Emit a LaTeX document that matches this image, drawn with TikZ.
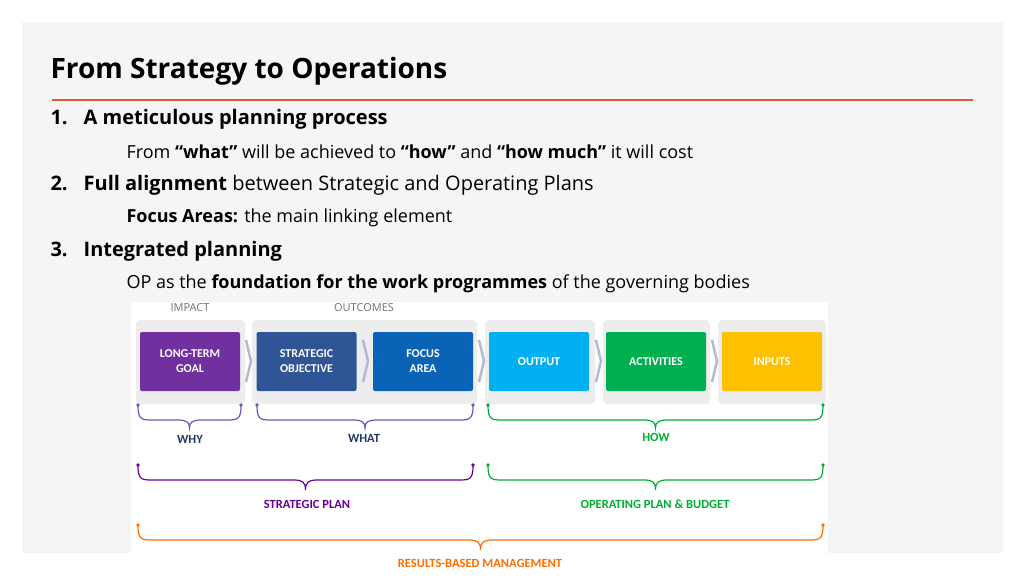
\documentclass[tikz,border=0pt]{standalone}
\usepackage{fontspec}
\setmainfont{Open Sans}
\newfontfamily\cond{Carlito}
\begin{document}
\begin{tikzpicture}[x=1pt,y=-1pt,
 box/.style={draw=none,minimum width=100pt,minimum height=59pt,rounded corners=2pt,text=white,font=\cond\bfseries\fontsize{12}{15}\selectfont,align=center},
 back/.style={fill=black!7,rounded corners=4pt},
 chev/.style={draw=blue!25!gray!45,line width=2.5pt},
 lbl/.style={font=\cond\bfseries\fontsize{12.5}{14}\selectfont},
 hdr/.style={anchor=west,font=\fontsize{20}{24}\selectfont},
 sub/.style={anchor=west,font=\fontsize{18}{22}\selectfont}]
\useasboundingbox (0,0) rectangle (1024,576);
\fill[white] (0,0) rectangle (1024,576);
\fill[black!4] (22,22) rectangle (1003,553);
\node[anchor=west,font=\bfseries\fontsize{28}{32}\selectfont] (title) at (47,71) {From Strategy to Operations};
\draw[line width=2pt,color={rgb,255:red,224;green,90;blue,58}] (52,100) -- (973,100);
\node[hdr,font=\bfseries\fontsize{20}{24}\selectfont] (n1) at (47,119) {1.\hspace{16pt}A meticulous planning process};
\node[sub] (s1) at (123,152) {From \textbf{“what”} will be achieved to \textbf{“how”} and \textbf{“how much”} it will cost};
\node[hdr] (n2) at (47,185) {\textbf{2.\hspace{16pt}Full alignment} between Strategic and Operating Plans};
\node[sub] (s2) at (123,218) {\textbf{Focus Areas:} the main linking element};
\node[hdr,font=\bfseries\fontsize{20}{24}\selectfont] (n3) at (47,251) {3.\hspace{16pt}Integrated planning};
\node[sub] (s3) at (123,284) {OP as the \textbf{foundation for the work programmes} of the governing bodies};
\fill[white] (131,302) rectangle (828,576);
\node[font=\fontsize{11}{13}\selectfont,text=black!55] (imp) at (190,308) {IMPACT};
\node[font=\fontsize{11}{13}\selectfont,text=black!55] (out) at (364,308) {OUTCOMES};
\foreach \a/\b in {136/245,252/477,485/595,603/710,718/826} \fill[back] (\a,320) rectangle (\b,404);
\node[box,fill={rgb,255:red,112;green,48;blue,160}] (g) at (190,361.5) {LONG-TERM\\GOAL};
\node[box,fill={rgb,255:red,47;green,85;blue,151}] (so) at (306.5,361.5) {STRATEGIC\\OBJECTIVE};
\node[box,fill={rgb,255:red,11;green,99;blue,184}] (fa) at (423,361.5) {FOCUS\\AREA};
\node[box,fill={rgb,255:red,0;green,176;blue,240}] (op) at (539,361.5) {OUTPUT};
\node[box,fill={rgb,255:red,0;green,176;blue,80}] (ac) at (656,361.5) {ACTIVITIES};
\node[box,fill={rgb,255:red,255;green,192;blue,0}] (in) at (772,361.5) {INPUTS};
\foreach \x in {246,363,479,596,712} \draw[chev] (\x,340) -- (\x+5,361) -- (\x,382);
\def\brace#1#2#3#4#5{\draw[#5,line width=1.2pt] (#1,#3) .. controls (#1,#3+14) and (#1+4,#3+14) .. (#1+15,#3+14) -- ({(#1+#2)/2-12},#3+14) .. controls ({(#1+#2)/2-3},#3+14) and ({(#1+#2)/2},#3+16) .. ({(#1+#2)/2},#4) .. controls ({(#1+#2)/2},#3+16) and ({(#1+#2)/2+3},#3+14) .. ({(#1+#2)/2+12},#3+14) -- (#2-15,#3+14) .. controls (#2-4,#3+14) and (#2,#3+14) .. (#2,#3);
\fill[#5] (#1,#3-1) circle (1.8pt) (#2,#3-1) circle (1.8pt);}
\colorlet{bl}{blue!40!gray!90}
\colorlet{gr}{green!60!black!80!cyan}
\colorlet{pu}{violet!80!blue}
\colorlet{orr}{orange!85!red}
\brace{138}{241}{406}{428}{bl}
\brace{257}{473}{406}{428}{bl}
\brace{488}{823}{406}{428}{gr}
\brace{138}{473}{466}{490}{pu}
\brace{488}{823}{466}{490}{gr}
\brace{138}{823}{526}{550}{orr}
\node[lbl,text={rgb,255:red,31;green,56;blue,100}] (why) at (190,439) {WHY};
\node[lbl,text={rgb,255:red,31;green,56;blue,100}] (what) at (364,438) {WHAT};
\node[lbl,text=gr] (how) at (656,437) {HOW};
\node[lbl,text=pu] (sp) at (307,504) {STRATEGIC PLAN};
\node[lbl,text=gr] (opb) at (655,504) {OPERATING PLAN \& BUDGET};
\node[lbl,text=orr] (rbm) at (480,563) {RESULTS-BASED MANAGEMENT};
\end{tikzpicture}
\end{document}
